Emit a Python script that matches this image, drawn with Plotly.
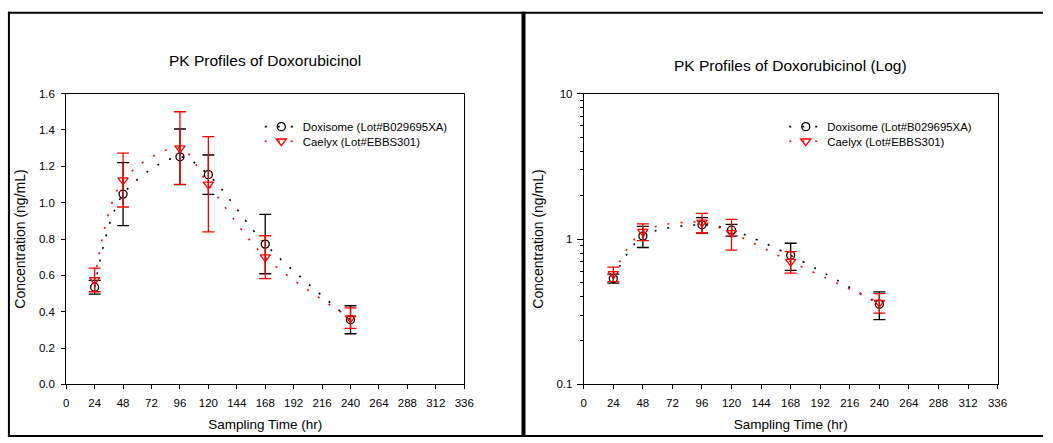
import plotly.graph_objects as go

# ---- data ----
time_hr = [24, 48, 96, 120, 168, 240]
doxisome_mean = [0.535, 1.047, 1.252, 1.154, 0.772, 0.356]
doxisome_sd = [0.038, 0.173, 0.153, 0.108, 0.163, 0.077]
caelyx_mean = [0.575, 1.124, 1.300, 1.101, 0.700, 0.365]
caelyx_sd = [0.065, 0.148, 0.200, 0.262, 0.118, 0.056]

x_ticks = list(range(0, 337, 24))
lin_ticks = [0.0, 0.2, 0.4, 0.6, 0.8, 1.0, 1.2, 1.4, 1.6]
log_ticks = [0.1, 1, 10]
log_ticktext = ["0.1", "1", "10"]
log_minor_ticks = [0.2, 0.3, 0.4, 0.5, 0.6, 0.7, 0.8, 0.9, 2, 3, 4, 5, 6, 7, 8, 9]

name_dox = "Doxisome (Lot#B029695XA)"
name_cae = "Caelyx (Lot#EBBS301)"

W, H = 1053, 443
FONT = "Liberation Sans, Arial, sans-serif"
RED = "#ff0000"
BLK = "#000000"

def px_x(p):
    return p / W

def px_y(p):
    return 1 - p / H

fig = go.Figure()

def add_series(xa, ya, legend_dox, legend_cae):
    fig.add_trace(go.Scatter(
        x=time_hr, y=doxisome_mean, name=name_dox, mode="lines+markers",
        xaxis=xa, yaxis=ya, legend=legend_dox,
        line=dict(color=BLK, width=1.6, dash="2px,11px", shape="spline", smoothing=0.9),
        marker=dict(symbol="circle-open", size=8, color=BLK, line=dict(width=1.3, color=BLK)),
        error_y=dict(type="data", array=doxisome_sd, visible=True, color=BLK, thickness=1.3, width=6),
    ))
    fig.add_trace(go.Scatter(
        x=time_hr, y=caelyx_mean, name=name_cae, mode="lines+markers",
        xaxis=xa, yaxis=ya, legend=legend_cae,
        line=dict(color=RED, width=1.6, dash="2px,11px", shape="spline", smoothing=0.9),
        marker=dict(symbol="triangle-down-open", size=9, color=RED, line=dict(width=1.3, color=RED)),
        error_y=dict(type="data", array=caelyx_sd, visible=True, color=RED, thickness=1.3, width=6),
    ))

add_series("x", "y", "legend", "legend2")
add_series("x2", "y2", "legend3", "legend4")

left_dom = [px_x(64), px_x(467)]
right_dom = [px_x(588), px_x(1007)]
y_dom = [px_y(389), px_y(90)]

tickfont = dict(family=FONT, size=11.5, color=BLK)
xtitle = dict(text="Sampling Time (hr)", font=dict(family=FONT, size=13.5, color=BLK), standoff=11)
ytitle = dict(text="Concentration (ng/mL)", font=dict(family=FONT, size=14, color=BLK), standoff=9)

common_x = dict(range=[0, 336], tickvals=x_ticks, ticks="outside", ticklen=4, tickwidth=1,
                tickcolor=BLK, showline=True, linecolor=BLK, linewidth=1, mirror=True,
                showgrid=False, zeroline=False, tickfont=tickfont, title=xtitle,
                ticklabelstandoff=4)

legend_common = dict(bgcolor="rgba(0,0,0,0)", borderwidth=0, xanchor="left", yanchor="middle",
                     font=dict(family=FONT, size=11.4, color=BLK), itemclick=False, itemwidth=33)

fig.update_layout(
    width=W, height=H,
    margin=dict(l=0, r=0, t=0, b=0, pad=0),
    paper_bgcolor="white", plot_bgcolor="white",
    showlegend=True,
    xaxis=dict(domain=left_dom, anchor="y", **common_x),
    yaxis=dict(domain=y_dom, anchor="x", range=[0, 1.6], tickvals=lin_ticks, tickformat=".1f",
               ticks="outside", ticklen=4, tickwidth=1, tickcolor=BLK, showline=True,
               linecolor=BLK, linewidth=1, mirror=True, showgrid=False, zeroline=False,
               tickfont=tickfont, title=ytitle, ticklabelstandoff=4),
    xaxis2=dict(domain=right_dom, anchor="y2", **common_x),
    yaxis2=dict(domain=y_dom, anchor="x2", type="log", range=[-1, 1], tickvals=log_ticks,
                ticktext=log_ticktext, ticks="outside", ticklen=6, tickwidth=1, tickcolor=BLK,
                minor=dict(tickvals=log_minor_ticks, ticks="outside", ticklen=3, tickcolor=BLK,
                           tickwidth=1, showgrid=False),
                showline=True, linecolor=BLK, linewidth=1, mirror=True, showgrid=False,
                zeroline=False, tickfont=tickfont, title=ytitle, ticklabelstandoff=2),
    legend=dict(x=px_x(260), y=px_y(124), **legend_common),
    legend2=dict(x=px_x(260), y=px_y(139), **legend_common),
    legend3=dict(x=px_x(791), y=px_y(124), **legend_common),
    legend4=dict(x=px_x(791), y=px_y(139), **legend_common),
    annotations=[
        dict(text="PK Profiles of Doxorubicinol", x=(left_dom[0] + left_dom[1]) / 2, y=px_y(56),
             xref="paper", yref="paper", xanchor="center", yanchor="middle", showarrow=False,
             font=dict(family=FONT, size=15.5, color=BLK)),
        dict(text="PK Profiles of Doxorubicinol (Log)", x=(right_dom[0] + right_dom[1]) / 2, y=px_y(61),
             xref="paper", yref="paper", xanchor="center", yanchor="middle", showarrow=False,
             font=dict(family=FONT, size=15.5, color=BLK)),
    ],
    shapes=[
        dict(type="line", xref="paper", yref="paper", x0=px_x(5), x1=1, y0=px_y(7), y1=px_y(7),
             line=dict(color=BLK, width=2)),
        dict(type="line", xref="paper", yref="paper", x0=px_x(6), x1=px_x(6), y0=px_y(6), y1=0,
             line=dict(color=BLK, width=2)),
        dict(type="line", xref="paper", yref="paper", x0=px_x(527), x1=px_x(527), y0=px_y(6), y1=0,
             line=dict(color=BLK, width=4)),
        dict(type="line", xref="paper", yref="paper", x0=px_x(5), x1=1, y0=px_y(442), y1=px_y(442),
             line=dict(color=BLK, width=2)),
    ],
)

fig.write_html("out.html")
